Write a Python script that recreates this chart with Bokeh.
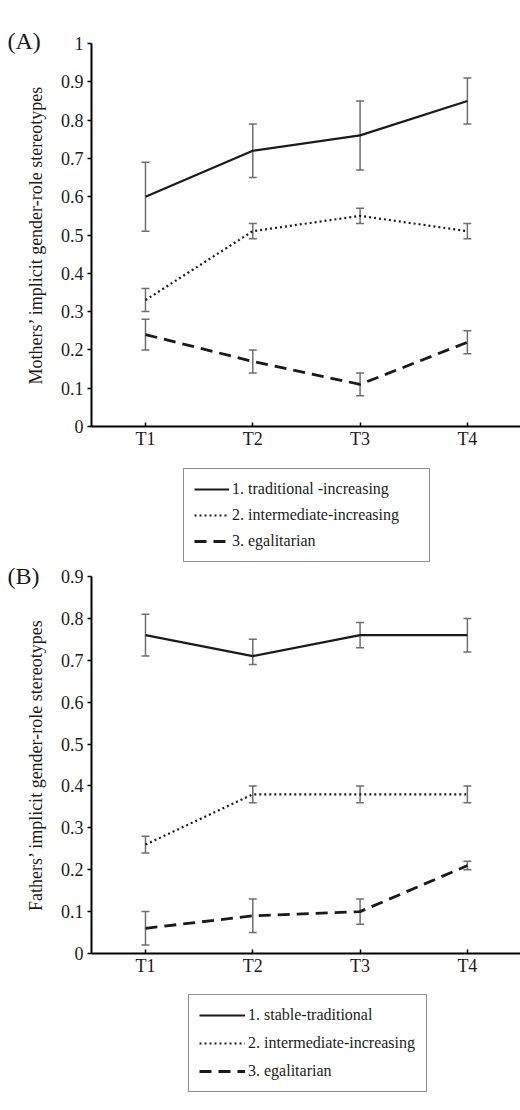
from bokeh.plotting import figure
from bokeh.models import (ColumnDataSource, Whisker, TeeHead, Legend, LegendItem,
                          FixedTicker, Range1d)
from bokeh.layouts import column
from bokeh.embed import file_html
from bokeh.resources import INLINE

# ---------------- data ----------------
waves = [1, 2, 3, 4]
wave_labels = ["T1", "T2", "T3", "T4"]

# Panel A: mothers
a_ylabel = "Mothers\u2019 implicit gender-role stereotypes"
a_names = ["1. traditional -increasing", "2. intermediate-increasing", "3. egalitarian"]
a_trad = [0.60, 0.72, 0.76, 0.85]
a_trad_lo = [0.51, 0.65, 0.67, 0.79]
a_trad_hi = [0.69, 0.79, 0.85, 0.91]
a_inter = [0.33, 0.51, 0.55, 0.51]
a_inter_lo = [0.30, 0.49, 0.53, 0.49]
a_inter_hi = [0.36, 0.53, 0.57, 0.53]
a_egal = [0.24, 0.17, 0.11, 0.22]
a_egal_lo = [0.20, 0.14, 0.08, 0.19]
a_egal_hi = [0.28, 0.20, 0.14, 0.25]
a_yticks = [0, 0.1, 0.2, 0.3, 0.4, 0.5, 0.6, 0.7, 0.8, 0.9, 1.0]
a_ytick_labels = ["0", "0.1", "0.2", "0.3", "0.4", "0.5", "0.6", "0.7", "0.8", "0.9", "1"]

# Panel B: fathers
b_ylabel = "Fathers\u2019 implicit gender-role stereotypes"
b_names = ["1. stable-traditional", "2. intermediate-increasing", "3. egalitarian"]
b_trad = [0.76, 0.71, 0.76, 0.76]
b_trad_lo = [0.71, 0.69, 0.73, 0.72]
b_trad_hi = [0.81, 0.75, 0.79, 0.80]
b_inter = [0.26, 0.38, 0.38, 0.38]
b_inter_lo = [0.24, 0.36, 0.36, 0.36]
b_inter_hi = [0.28, 0.40, 0.40, 0.40]
b_egal = [0.06, 0.09, 0.10, 0.21]
b_egal_lo = [0.02, 0.05, 0.07, 0.20]
b_egal_hi = [0.10, 0.13, 0.13, 0.22]
b_yticks = [0, 0.1, 0.2, 0.3, 0.4, 0.5, 0.6, 0.7, 0.8, 0.9]
b_ytick_labels = ["0", "0.1", "0.2", "0.3", "0.4", "0.5", "0.6", "0.7", "0.8", "0.9"]

FONT = "Liberation Serif"
INK = "#1a1a1a"
ERR = "#6e6e6e"
DASHES = ["solid", "2 3", "12 7"]
WIDTHS = [2.2, 2.2, 2.8]

X0, X1 = 0.497, 4.495
LEFT = 91
FRAME_W = 429


def make_panel(tag, tag_standoff, ylabel, ymax, yticks, yticklabels, frame_h, top, series):
    p = figure(frame_width=FRAME_W, frame_height=frame_h,
               x_range=Range1d(X0, X1), y_range=Range1d(0, ymax),
               output_backend="svg", toolbar_location=None,
               min_border_left=LEFT, min_border_right=0,
               min_border_top=top, min_border_bottom=30,
               background_fill_color="white", border_fill_color="white")
    p.outline_line_color = None
    p.grid.visible = False

    # panel tag as title
    p.title.text = tag
    p.title.align = "left"
    p.title.offset = -84
    p.title.standoff = tag_standoff
    p.title.vertical_align = "middle"
    p.title.text_font = FONT
    p.title.text_font_size = "24px"
    p.title.text_font_style = "normal"
    p.title.text_color = INK

    for (vals, lo, hi), dash, lw in zip(series, DASHES, WIDTHS):
        src = ColumnDataSource(dict(x=waves, y=vals, lo=lo, hi=hi))
        w = Whisker(source=src, base="x", upper="hi", lower="lo",
                    line_color=ERR, line_width=1.5, level="underlay",
                    upper_head=TeeHead(size=8, line_color=ERR, line_width=1.5),
                    lower_head=TeeHead(size=8, line_color=ERR, line_width=1.5))
        p.add_layout(w)
        p.line("x", "y", source=src, line_color=INK, line_width=lw, line_dash=dash)

    p.xaxis.ticker = FixedTicker(ticks=waves, minor_ticks=[])
    p.xaxis.major_label_overrides = dict(zip(waves, wave_labels))
    p.xaxis.major_tick_in = 4
    p.xaxis.major_tick_out = 0
    p.xaxis.major_label_standoff = 2
    p.yaxis.ticker = FixedTicker(ticks=yticks, minor_ticks=[])
    p.yaxis.major_label_overrides = dict(zip(yticks, yticklabels))
    p.yaxis.major_tick_in = 0
    p.yaxis.major_tick_out = 4
    p.yaxis.major_label_standoff = 4
    p.yaxis.axis_label = ylabel
    p.yaxis.axis_label_standoff = 12
    for ax in (p.xaxis, p.yaxis):
        ax.axis_line_color = "black"
        ax.axis_line_width = 2
        ax.major_tick_line_color = "black"
        ax.major_tick_line_width = 1.5
        ax.minor_tick_line_color = None
        ax.major_label_text_font = FONT
        ax.major_label_text_font_size = "18px"
        ax.major_label_text_color = INK
        ax.axis_label_text_font = FONT
        ax.axis_label_text_font_size = "18px"
        ax.axis_label_text_font_style = "normal"
        ax.axis_label_text_color = INK
    return p


def make_legend_fig(names, series, frame_h, box_left, glyph_w, label_w, pad, spacing):
    # legend-only figure: the sample lines are the real series, kept out of view
    lf = figure(frame_width=FRAME_W, frame_height=frame_h,
                x_range=Range1d(X0, X1), y_range=Range1d(50, 51),
                x_axis_location=None, y_axis_location=None,
                output_backend="svg", toolbar_location=None,
                min_border_left=LEFT, min_border_right=0,
                min_border_top=0, min_border_bottom=0,
                background_fill_color="white", border_fill_color="white")
    lf.outline_line_color = None
    lf.grid.visible = False
    items = []
    for n, vals, dash, lw in zip(names, series, DASHES, WIDTHS):
        r = lf.line(x=waves, y=vals, line_color=INK, line_width=lw, line_dash=dash)
        items.append(LegendItem(label=n, renderers=[r]))
    leg = Legend(items=items, location=(box_left - LEFT, 0), orientation="vertical",
                 border_line_color="#222", border_line_width=1.2,
                 background_fill_color="white", background_fill_alpha=1,
                 padding=pad, spacing=spacing, margin=0,
                 glyph_width=glyph_w, glyph_height=20, label_height=20,
                 label_width=label_w, label_standoff=3,
                 label_text_font=FONT, label_text_font_size="16px",
                 label_text_color=INK)
    lf.add_layout(leg, "center")
    return lf


pA = make_panel("(A)", -22, a_ylabel, 1.0, a_yticks, a_ytick_labels, 383, 43,
                [(a_trad, a_trad_lo, a_trad_hi),
                 (a_inter, a_inter_lo, a_inter_hi),
                 (a_egal, a_egal_lo, a_egal_hi)])
legA = make_legend_fig(a_names, [a_trad, a_inter, a_egal], 106, 183, 35, 187, 10, 6)

pB = make_panel("(B)", -26, b_ylabel, 0.9, b_yticks, b_ytick_labels, 377, 14,
                [(b_trad, b_trad_lo, b_trad_hi),
                 (b_inter, b_inter_lo, b_inter_hi),
                 (b_egal, b_egal_lo, b_egal_hi)])
legB = make_legend_fig(b_names, [b_trad, b_inter, b_egal], 109, 188, 46, 168, 10, 8)

layout = column(pA, legA, pB, legB, spacing=0)
open("out.html", "w").write(file_html(layout, INLINE))
